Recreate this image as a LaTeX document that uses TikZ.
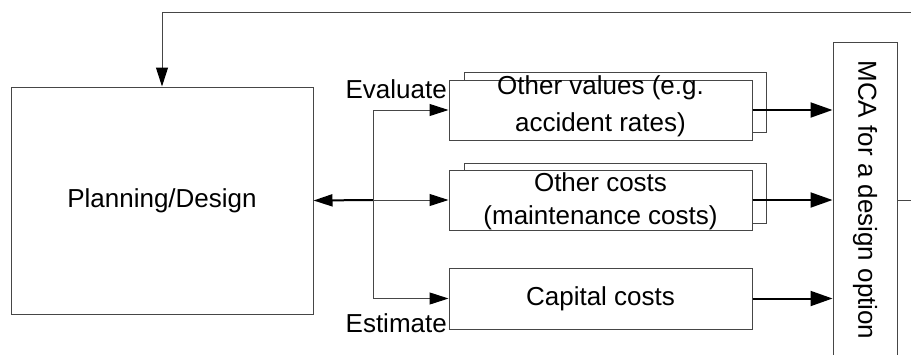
\documentclass[tikz,border=0pt]{standalone}
\usepackage{fontspec}
\setmainfont{Liberation Sans}
\usetikzlibrary{arrows.meta}
\definecolor{boxgray}{RGB}{70,70,70}
\begin{document}
\begin{tikzpicture}[x=1pt,y=-1pt,
  box/.style={draw=boxgray, line width=1pt, fill=white, inner sep=0pt, font=\fontsize{26}{31}\selectfont},
  lbl/.style={font=\fontsize{26}{33}\selectfont, inner sep=0pt, align=center},
  thinline/.style={draw=boxgray, line width=1pt},
  heavy/.style={draw=black, line width=2pt},
  tip/.style={-{Triangle[length=19pt,width=12pt,black]}},
  bigtip/.style={-{Triangle[length=22pt,width=15pt,black]}}]
\clip (0,0) rectangle (911,354);
% boxes
\node[box, minimum width=302pt, minimum height=227pt] (plan) at (162,200.5) {Planning/Design};
\node[box, minimum width=302pt, minimum height=60pt] (ovb) at (615,102) {};
\node[box, minimum width=303pt, minimum height=60pt] (ov) at (600.5,110) {};
\node[lbl] (ovt) at (600.5,106.5) {Other values (e.g.\\[4pt]accident rates)};
\node[box, minimum width=302pt, minimum height=60pt] (ocb) at (615,193) {};
\node[box, minimum width=303pt, minimum height=60pt] (oc) at (600.5,200) {};
\node[lbl] (oct) at (600.5,201.5) {Other costs\\(maintenance costs)};
\node[box, minimum width=303pt, minimum height=61pt] (cc) at (600.5,298.5) {Capital costs};
\node[box, rotate=-90, minimum width=316pt, minimum height=64pt] (mca) at (865,200) {MCA for a design option};
% labels
\node[lbl, anchor=base east] (eva) at (447,98) {Evaluate};
\node[lbl, anchor=base east] (est) at (447,332) {Estimate};
% feedback
\coordinate (fbr) at (925,12);
\draw[thinline, tip] (mca.north) -- (mca.north -| fbr) -- (fbr) -- (fbr -| plan.north) -- (plan.north);
% branch
\coordinate (br) at (373,200);
\draw[heavy, tip] (br) -- (plan.east);
\draw[thinline, tip] (br) -- (oc.west);
\draw[thinline] (br |- ov.west) -- (br |- cc.west);
\draw[thinline, tip] (br |- ov.west) -- (ov.west);
\draw[thinline, tip] (br |- cc.west) -- (cc.west);
% to MCA
\draw[heavy, bigtip] (ov.east) -- (ov.east -| mca.south);
\draw[heavy, bigtip] (oc.east) -- (oc.east -| mca.south);
\draw[heavy, bigtip] (cc.east) -- (cc.east -| mca.south);
\end{tikzpicture}
\end{document}
